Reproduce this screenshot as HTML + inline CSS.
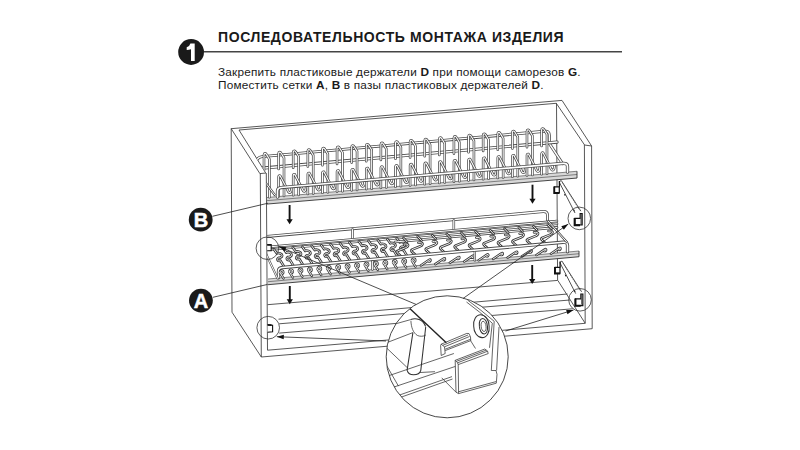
<!DOCTYPE html>
<html><head><meta charset="utf-8">
<style>
html,body{margin:0;padding:0;background:#fff;width:800px;height:450px;overflow:hidden;}
body{position:relative;font-family:"Liberation Sans",sans-serif;color:#1a1a1a;}
.t{position:absolute;white-space:nowrap;}
#title{left:218px;top:29px;font-size:14px;font-weight:bold;letter-spacing:0.6px;}
#l1{left:218px;top:64.6px;font-size:11.8px;letter-spacing:0.19px;}
#l2{left:218px;top:78px;font-size:11.8px;letter-spacing:0.19px;}
b{font-weight:bold;}
svg{position:absolute;left:0;top:0;}
</style></head><body>
<svg width="800" height="450" viewBox="0 0 800 450"><g stroke="#3a3a3a" stroke-width="0.85" fill="none"><path d="M231.00,128.70 L562.00,100.40"/><path d="M239.00,130.00 L556.30,103.30"/><path d="M231.20,128.70 L232.00,312.20"/><path d="M231.20,128.70 L259.90,173.60"/><path d="M239.00,130.00 L265.60,172.80"/><path d="M259.90,173.60 L266.00,173.00"/><path d="M260.30,173.60 L261.30,357.00"/><path d="M266.30,173.00 L267.50,350.20"/><path d="M232.00,312.20 L261.30,357.00"/><path d="M261.30,357.00 L592.20,328.70"/><path d="M267.50,350.20 L585.20,323.30"/><path d="M556.30,103.30 L584.60,145.00"/><path d="M562.00,100.40 L591.60,146.00"/><path d="M584.60,145.00 L591.60,146.00"/><path d="M584.40,145.00 L585.20,323.30"/><path d="M591.60,146.00 L592.20,328.70"/><path d="M556.50,103.30 L557.60,280.00"/><path d="M267.50,304.70 L557.80,280.40"/><path d="M557.80,280.40 L585.20,323.30"/><path d="M278.50,319.20 L567.50,294.00"/><path d="M279.20,323.80 L570.00,300.00"/><path d="M279.20,333.10 L572.50,308.80"/></g><clipPath id="wallclip"><path d="M239,0 L239,130 L265.6,172.8 L266.6,173 L267.6,450 L800,450 L800,0 Z"/></clipPath><g clip-path="url(#wallclip)"><path d="M267.00,197.51 L577.00,171.27 L577.00,178.06 L267.00,204.06 Z" fill="#d8d8d8" stroke="none"/><path d="M267.00,197.51 L577.00,171.27 M267.00,200.64 L577.00,174.52" stroke="#555" stroke-width="0.7" fill="none"/><path d="M267.00,204.06 L577.00,178.06 M577.00,171.27 L577.00,178.06" stroke="#333" stroke-width="0.9" fill="none"/><path d="M255.00,165.83 Q256.00,157.15 262.00,156.62 L545.00,131.25 Q549.30,130.87 549.30,135.21 L549.30,143.50 L562.70,163.78" stroke="#4a4a4a" stroke-width="3.0" fill="none" stroke-linecap="round" stroke-linejoin="round"/><path d="M255.00,165.83 Q256.00,157.15 262.00,156.62 L545.00,131.25 Q549.30,130.87 549.30,135.21 L549.30,143.50 L562.70,163.78" stroke="#fff" stroke-width="1.4" fill="none" stroke-linecap="round" stroke-linejoin="round"/><path d="M262.00,168.14 L557.00,142.11" stroke="#4a4a4a" stroke-width="3.2" fill="none" stroke-linecap="round" stroke-linejoin="round"/><path d="M262.00,168.14 L557.00,142.11" stroke="#fff" stroke-width="1.5" fill="none" stroke-linecap="round" stroke-linejoin="round"/><path d="M264.00,170.31 L264.00,154.87 Q264.00,153.51 265.10,153.41 Q265.90,153.33 266.60,154.64 L269.40,159.18 L269.40,197.31" stroke="#4a4a4a" stroke-width="2.6" fill="none" stroke-linecap="round" stroke-linejoin="round"/><path d="M264.00,170.31 L264.00,154.87 Q264.00,153.51 265.10,153.41 Q265.90,153.33 266.60,154.64 L269.40,159.18 L269.40,197.31" stroke="#fff" stroke-width="1.1" fill="none" stroke-linecap="round" stroke-linejoin="round"/><path d="M278.61,169.03 L278.61,153.56 Q278.61,152.19 279.71,152.09 Q280.51,152.02 281.21,153.33 L284.01,157.88 L284.01,196.07" stroke="#4a4a4a" stroke-width="2.6" fill="none" stroke-linecap="round" stroke-linejoin="round"/><path d="M278.61,169.03 L278.61,153.56 Q278.61,152.19 279.71,152.09 Q280.51,152.02 281.21,153.33 L284.01,157.88 L284.01,196.07" stroke="#fff" stroke-width="1.1" fill="none" stroke-linecap="round" stroke-linejoin="round"/><path d="M293.22,167.74 L293.22,152.25 Q293.22,150.88 294.32,150.78 Q295.12,150.71 295.82,152.02 L298.62,156.57 L298.62,194.84" stroke="#4a4a4a" stroke-width="2.6" fill="none" stroke-linecap="round" stroke-linejoin="round"/><path d="M293.22,167.74 L293.22,152.25 Q293.22,150.88 294.32,150.78 Q295.12,150.71 295.82,152.02 L298.62,156.57 L298.62,194.84" stroke="#fff" stroke-width="1.1" fill="none" stroke-linecap="round" stroke-linejoin="round"/><path d="M307.83,166.46 L307.83,150.94 Q307.83,149.56 308.93,149.46 Q309.73,149.39 310.43,150.70 L313.23,155.27 L313.23,193.60" stroke="#4a4a4a" stroke-width="2.6" fill="none" stroke-linecap="round" stroke-linejoin="round"/><path d="M307.83,166.46 L307.83,150.94 Q307.83,149.56 308.93,149.46 Q309.73,149.39 310.43,150.70 L313.23,155.27 L313.23,193.60" stroke="#fff" stroke-width="1.1" fill="none" stroke-linecap="round" stroke-linejoin="round"/><path d="M322.44,165.17 L322.44,149.62 Q322.44,148.25 323.54,148.15 Q324.34,148.08 325.04,149.39 L327.84,153.96 L327.84,192.36" stroke="#4a4a4a" stroke-width="2.6" fill="none" stroke-linecap="round" stroke-linejoin="round"/><path d="M322.44,165.17 L322.44,149.62 Q322.44,148.25 323.54,148.15 Q324.34,148.08 325.04,149.39 L327.84,153.96 L327.84,192.36" stroke="#fff" stroke-width="1.1" fill="none" stroke-linecap="round" stroke-linejoin="round"/><path d="M337.05,163.89 L337.05,148.31 Q337.05,146.93 338.15,146.83 Q338.95,146.76 339.65,148.08 L342.45,152.66 L342.45,191.13" stroke="#4a4a4a" stroke-width="2.6" fill="none" stroke-linecap="round" stroke-linejoin="round"/><path d="M337.05,163.89 L337.05,148.31 Q337.05,146.93 338.15,146.83 Q338.95,146.76 339.65,148.08 L342.45,152.66 L342.45,191.13" stroke="#fff" stroke-width="1.1" fill="none" stroke-linecap="round" stroke-linejoin="round"/><path d="M351.66,162.60 L351.66,147.00 Q351.66,145.62 352.76,145.52 Q353.56,145.45 354.26,146.77 L357.06,151.36 L357.06,189.89" stroke="#4a4a4a" stroke-width="2.6" fill="none" stroke-linecap="round" stroke-linejoin="round"/><path d="M351.66,162.60 L351.66,147.00 Q351.66,145.62 352.76,145.52 Q353.56,145.45 354.26,146.77 L357.06,151.36 L357.06,189.89" stroke="#fff" stroke-width="1.1" fill="none" stroke-linecap="round" stroke-linejoin="round"/><path d="M366.27,161.32 L366.27,145.69 Q366.27,144.30 367.37,144.20 Q368.17,144.13 368.87,145.45 L371.67,150.05 L371.67,188.65" stroke="#4a4a4a" stroke-width="2.6" fill="none" stroke-linecap="round" stroke-linejoin="round"/><path d="M366.27,161.32 L366.27,145.69 Q366.27,144.30 367.37,144.20 Q368.17,144.13 368.87,145.45 L371.67,150.05 L371.67,188.65" stroke="#fff" stroke-width="1.1" fill="none" stroke-linecap="round" stroke-linejoin="round"/><path d="M380.88,160.03 L380.88,144.38 Q380.88,142.99 381.98,142.89 Q382.78,142.82 383.48,144.14 L386.28,148.75 L386.28,187.42" stroke="#4a4a4a" stroke-width="2.6" fill="none" stroke-linecap="round" stroke-linejoin="round"/><path d="M380.88,160.03 L380.88,144.38 Q380.88,142.99 381.98,142.89 Q382.78,142.82 383.48,144.14 L386.28,148.75 L386.28,187.42" stroke="#fff" stroke-width="1.1" fill="none" stroke-linecap="round" stroke-linejoin="round"/><path d="M395.49,158.75 L395.49,143.06 Q395.49,141.67 396.59,141.58 Q397.39,141.50 398.09,142.83 L400.89,147.45 L400.89,186.18" stroke="#4a4a4a" stroke-width="2.6" fill="none" stroke-linecap="round" stroke-linejoin="round"/><path d="M395.49,158.75 L395.49,143.06 Q395.49,141.67 396.59,141.58 Q397.39,141.50 398.09,142.83 L400.89,147.45 L400.89,186.18" stroke="#fff" stroke-width="1.1" fill="none" stroke-linecap="round" stroke-linejoin="round"/><path d="M410.10,157.46 L410.10,141.75 Q410.10,140.36 411.20,140.26 Q412.00,140.19 412.70,141.52 L415.50,146.14 L415.50,184.94" stroke="#4a4a4a" stroke-width="2.6" fill="none" stroke-linecap="round" stroke-linejoin="round"/><path d="M410.10,157.46 L410.10,141.75 Q410.10,140.36 411.20,140.26 Q412.00,140.19 412.70,141.52 L415.50,146.14 L415.50,184.94" stroke="#fff" stroke-width="1.1" fill="none" stroke-linecap="round" stroke-linejoin="round"/><path d="M424.71,156.18 L424.71,140.44 Q424.71,139.05 425.81,138.95 Q426.61,138.87 427.31,140.21 L430.11,144.84 L430.11,183.71" stroke="#4a4a4a" stroke-width="2.6" fill="none" stroke-linecap="round" stroke-linejoin="round"/><path d="M424.71,156.18 L424.71,140.44 Q424.71,139.05 425.81,138.95 Q426.61,138.87 427.31,140.21 L430.11,144.84 L430.11,183.71" stroke="#fff" stroke-width="1.1" fill="none" stroke-linecap="round" stroke-linejoin="round"/><path d="M439.32,154.89 L439.32,139.13 Q439.32,137.73 440.42,137.63 Q441.22,137.56 441.92,138.89 L444.72,143.53 L444.72,182.47" stroke="#4a4a4a" stroke-width="2.6" fill="none" stroke-linecap="round" stroke-linejoin="round"/><path d="M439.32,154.89 L439.32,139.13 Q439.32,137.73 440.42,137.63 Q441.22,137.56 441.92,138.89 L444.72,143.53 L444.72,182.47" stroke="#fff" stroke-width="1.1" fill="none" stroke-linecap="round" stroke-linejoin="round"/><path d="M453.93,153.61 L453.93,137.82 Q453.93,136.42 455.03,136.32 Q455.83,136.25 456.53,137.58 L459.33,142.23 L459.33,181.23" stroke="#4a4a4a" stroke-width="2.6" fill="none" stroke-linecap="round" stroke-linejoin="round"/><path d="M453.93,153.61 L453.93,137.82 Q453.93,136.42 455.03,136.32 Q455.83,136.25 456.53,137.58 L459.33,142.23 L459.33,181.23" stroke="#fff" stroke-width="1.1" fill="none" stroke-linecap="round" stroke-linejoin="round"/><path d="M468.54,152.32 L468.54,136.50 Q468.54,135.10 469.64,135.00 Q470.44,134.93 471.14,136.27 L473.94,140.93 L473.94,180.00" stroke="#4a4a4a" stroke-width="2.6" fill="none" stroke-linecap="round" stroke-linejoin="round"/><path d="M468.54,152.32 L468.54,136.50 Q468.54,135.10 469.64,135.00 Q470.44,134.93 471.14,136.27 L473.94,140.93 L473.94,180.00" stroke="#fff" stroke-width="1.1" fill="none" stroke-linecap="round" stroke-linejoin="round"/><path d="M483.15,151.04 L483.15,135.19 Q483.15,133.79 484.25,133.69 Q485.05,133.62 485.75,134.96 L488.55,139.62 L488.55,178.76" stroke="#4a4a4a" stroke-width="2.6" fill="none" stroke-linecap="round" stroke-linejoin="round"/><path d="M483.15,151.04 L483.15,135.19 Q483.15,133.79 484.25,133.69 Q485.05,133.62 485.75,134.96 L488.55,139.62 L488.55,178.76" stroke="#fff" stroke-width="1.1" fill="none" stroke-linecap="round" stroke-linejoin="round"/><path d="M497.76,149.75 L497.76,133.88 Q497.76,132.47 498.86,132.37 Q499.66,132.30 500.36,133.65 L503.16,138.32 L503.16,177.52" stroke="#4a4a4a" stroke-width="2.6" fill="none" stroke-linecap="round" stroke-linejoin="round"/><path d="M497.76,149.75 L497.76,133.88 Q497.76,132.47 498.86,132.37 Q499.66,132.30 500.36,133.65 L503.16,138.32 L503.16,177.52" stroke="#fff" stroke-width="1.1" fill="none" stroke-linecap="round" stroke-linejoin="round"/><path d="M512.37,148.47 L512.37,132.57 Q512.37,131.16 513.47,131.06 Q514.27,130.99 514.97,132.33 L517.77,137.02 L517.77,176.29" stroke="#4a4a4a" stroke-width="2.6" fill="none" stroke-linecap="round" stroke-linejoin="round"/><path d="M512.37,148.47 L512.37,132.57 Q512.37,131.16 513.47,131.06 Q514.27,130.99 514.97,132.33 L517.77,137.02 L517.77,176.29" stroke="#fff" stroke-width="1.1" fill="none" stroke-linecap="round" stroke-linejoin="round"/><path d="M526.98,147.18 L526.98,131.25 Q526.98,129.84 528.08,129.74 Q528.88,129.67 529.58,131.02 L532.38,135.71 L532.38,175.05" stroke="#4a4a4a" stroke-width="2.6" fill="none" stroke-linecap="round" stroke-linejoin="round"/><path d="M526.98,147.18 L526.98,131.25 Q526.98,129.84 528.08,129.74 Q528.88,129.67 529.58,131.02 L532.38,135.71 L532.38,175.05" stroke="#fff" stroke-width="1.1" fill="none" stroke-linecap="round" stroke-linejoin="round"/><path d="M541.59,145.90 L541.59,129.94 Q541.59,128.53 542.69,128.43 Q543.49,128.36 544.19,129.71 L546.99,134.41 L546.99,173.81" stroke="#4a4a4a" stroke-width="2.6" fill="none" stroke-linecap="round" stroke-linejoin="round"/><path d="M541.59,145.90 L541.59,129.94 Q541.59,128.53 542.69,128.43 Q543.49,128.36 544.19,129.71 L546.99,134.41 L546.99,173.81" stroke="#fff" stroke-width="1.1" fill="none" stroke-linecap="round" stroke-linejoin="round"/><path d="M278.61,196.53 L278.61,176.96 Q278.61,175.29 280.11,175.65 L286.11,187.08 L288.11,191.32 Q289.61,194.13 291.11,191.06 L291.61,188.08" stroke="#4a4a4a" stroke-width="2.6" fill="none" stroke-linecap="round" stroke-linejoin="round"/><path d="M278.61,196.53 L278.61,176.96 Q278.61,175.29 280.11,175.65 L286.11,187.08 L288.11,191.32 Q289.61,194.13 291.11,191.06 L291.61,188.08" stroke="#fff" stroke-width="1.1" fill="none" stroke-linecap="round" stroke-linejoin="round"/><path d="M293.22,195.30 L293.22,175.68 Q293.22,174.02 294.72,174.38 L300.72,185.83 L302.72,190.07 Q304.22,192.89 305.72,189.82 L306.22,186.83" stroke="#4a4a4a" stroke-width="2.6" fill="none" stroke-linecap="round" stroke-linejoin="round"/><path d="M293.22,195.30 L293.22,175.68 Q293.22,174.02 294.72,174.38 L300.72,185.83 L302.72,190.07 Q304.22,192.89 305.72,189.82 L306.22,186.83" stroke="#fff" stroke-width="1.1" fill="none" stroke-linecap="round" stroke-linejoin="round"/><path d="M307.83,194.06 L307.83,174.41 Q307.83,172.74 309.33,173.10 L315.33,184.58 L317.33,188.83 Q318.83,191.65 320.33,188.57 L320.83,185.58" stroke="#4a4a4a" stroke-width="2.6" fill="none" stroke-linecap="round" stroke-linejoin="round"/><path d="M307.83,194.06 L307.83,174.41 Q307.83,172.74 309.33,173.10 L315.33,184.58 L317.33,188.83 Q318.83,191.65 320.33,188.57 L320.83,185.58" stroke="#fff" stroke-width="1.1" fill="none" stroke-linecap="round" stroke-linejoin="round"/><path d="M322.44,192.82 L322.44,173.14 Q322.44,171.47 323.94,171.83 L329.94,183.32 L331.94,187.58 Q333.44,190.41 334.94,187.33 L335.44,184.33" stroke="#4a4a4a" stroke-width="2.6" fill="none" stroke-linecap="round" stroke-linejoin="round"/><path d="M322.44,192.82 L322.44,173.14 Q322.44,171.47 323.94,171.83 L329.94,183.32 L331.94,187.58 Q333.44,190.41 334.94,187.33 L335.44,184.33" stroke="#fff" stroke-width="1.1" fill="none" stroke-linecap="round" stroke-linejoin="round"/><path d="M337.05,191.58 L337.05,171.87 Q337.05,170.20 338.55,170.56 L344.55,182.07 L346.55,186.34 Q348.05,189.17 349.55,186.08 L350.05,183.08" stroke="#4a4a4a" stroke-width="2.6" fill="none" stroke-linecap="round" stroke-linejoin="round"/><path d="M337.05,191.58 L337.05,171.87 Q337.05,170.20 338.55,170.56 L344.55,182.07 L346.55,186.34 Q348.05,189.17 349.55,186.08 L350.05,183.08" stroke="#fff" stroke-width="1.1" fill="none" stroke-linecap="round" stroke-linejoin="round"/><path d="M351.66,190.35 L351.66,170.60 Q351.66,168.92 353.16,169.28 L359.16,180.82 L361.16,185.10 Q362.66,187.93 364.16,184.84 L364.66,181.83" stroke="#4a4a4a" stroke-width="2.6" fill="none" stroke-linecap="round" stroke-linejoin="round"/><path d="M351.66,190.35 L351.66,170.60 Q351.66,168.92 353.16,169.28 L359.16,180.82 L361.16,185.10 Q362.66,187.93 364.16,184.84 L364.66,181.83" stroke="#fff" stroke-width="1.1" fill="none" stroke-linecap="round" stroke-linejoin="round"/><path d="M366.27,189.11 L366.27,169.33 Q366.27,167.65 367.77,168.01 L373.77,179.57 L375.77,183.85 Q377.27,186.69 378.77,183.60 L379.27,180.58" stroke="#4a4a4a" stroke-width="2.6" fill="none" stroke-linecap="round" stroke-linejoin="round"/><path d="M366.27,189.11 L366.27,169.33 Q366.27,167.65 367.77,168.01 L373.77,179.57 L375.77,183.85 Q377.27,186.69 378.77,183.60 L379.27,180.58" stroke="#fff" stroke-width="1.1" fill="none" stroke-linecap="round" stroke-linejoin="round"/><path d="M380.88,187.87 L380.88,168.06 Q380.88,166.37 382.38,166.74 L388.38,178.31 L390.38,182.61 Q391.88,185.45 393.38,182.35 L393.88,179.33" stroke="#4a4a4a" stroke-width="2.6" fill="none" stroke-linecap="round" stroke-linejoin="round"/><path d="M380.88,187.87 L380.88,168.06 Q380.88,166.37 382.38,166.74 L388.38,178.31 L390.38,182.61 Q391.88,185.45 393.38,182.35 L393.88,179.33" stroke="#fff" stroke-width="1.1" fill="none" stroke-linecap="round" stroke-linejoin="round"/><path d="M395.49,186.64 L395.49,166.79 Q395.49,165.10 396.99,165.46 L402.99,177.06 L404.99,181.36 Q406.49,184.22 407.99,181.11 L408.49,178.08" stroke="#4a4a4a" stroke-width="2.6" fill="none" stroke-linecap="round" stroke-linejoin="round"/><path d="M395.49,186.64 L395.49,166.79 Q395.49,165.10 396.99,165.46 L402.99,177.06 L404.99,181.36 Q406.49,184.22 407.99,181.11 L408.49,178.08" stroke="#fff" stroke-width="1.1" fill="none" stroke-linecap="round" stroke-linejoin="round"/><path d="M410.10,185.40 L410.10,165.52 Q410.10,163.82 411.60,164.19 L417.60,175.81 L419.60,180.12 Q421.10,182.98 422.60,179.86 L423.10,176.83" stroke="#4a4a4a" stroke-width="2.6" fill="none" stroke-linecap="round" stroke-linejoin="round"/><path d="M410.10,185.40 L410.10,165.52 Q410.10,163.82 411.60,164.19 L417.60,175.81 L419.60,180.12 Q421.10,182.98 422.60,179.86 L423.10,176.83" stroke="#fff" stroke-width="1.1" fill="none" stroke-linecap="round" stroke-linejoin="round"/><path d="M424.71,184.16 L424.71,164.24 Q424.71,162.55 426.21,162.92 L432.21,174.56 L434.21,178.87 Q435.71,181.74 437.21,178.62 L437.71,175.58" stroke="#4a4a4a" stroke-width="2.6" fill="none" stroke-linecap="round" stroke-linejoin="round"/><path d="M424.71,184.16 L424.71,164.24 Q424.71,162.55 426.21,162.92 L432.21,174.56 L434.21,178.87 Q435.71,181.74 437.21,178.62 L437.71,175.58" stroke="#fff" stroke-width="1.1" fill="none" stroke-linecap="round" stroke-linejoin="round"/><path d="M439.32,182.93 L439.32,162.97 Q439.32,161.28 440.82,161.64 L446.82,173.30 L448.82,177.63 Q450.32,180.50 451.82,177.37 L452.32,174.33" stroke="#4a4a4a" stroke-width="2.6" fill="none" stroke-linecap="round" stroke-linejoin="round"/><path d="M439.32,182.93 L439.32,162.97 Q439.32,161.28 440.82,161.64 L446.82,173.30 L448.82,177.63 Q450.32,180.50 451.82,177.37 L452.32,174.33" stroke="#fff" stroke-width="1.1" fill="none" stroke-linecap="round" stroke-linejoin="round"/><path d="M453.93,181.69 L453.93,161.70 Q453.93,160.00 455.43,160.37 L461.43,172.05 L463.43,176.38 Q464.93,179.26 466.43,176.13 L466.93,173.08" stroke="#4a4a4a" stroke-width="2.6" fill="none" stroke-linecap="round" stroke-linejoin="round"/><path d="M453.93,181.69 L453.93,161.70 Q453.93,160.00 455.43,160.37 L461.43,172.05 L463.43,176.38 Q464.93,179.26 466.43,176.13 L466.93,173.08" stroke="#fff" stroke-width="1.1" fill="none" stroke-linecap="round" stroke-linejoin="round"/><path d="M468.54,180.45 L468.54,160.43 Q468.54,158.73 470.04,159.10 L476.04,170.80 L478.04,175.14 Q479.54,178.02 481.04,174.88 L481.54,171.83" stroke="#4a4a4a" stroke-width="2.6" fill="none" stroke-linecap="round" stroke-linejoin="round"/><path d="M468.54,180.45 L468.54,160.43 Q468.54,158.73 470.04,159.10 L476.04,170.80 L478.04,175.14 Q479.54,178.02 481.04,174.88 L481.54,171.83" stroke="#fff" stroke-width="1.1" fill="none" stroke-linecap="round" stroke-linejoin="round"/><path d="M483.15,179.22 L483.15,159.16 Q483.15,157.45 484.65,157.83 L490.65,169.55 L492.65,173.89 Q494.15,176.78 495.65,173.64 L496.15,170.58" stroke="#4a4a4a" stroke-width="2.6" fill="none" stroke-linecap="round" stroke-linejoin="round"/><path d="M483.15,179.22 L483.15,159.16 Q483.15,157.45 484.65,157.83 L490.65,169.55 L492.65,173.89 Q494.15,176.78 495.65,173.64 L496.15,170.58" stroke="#fff" stroke-width="1.1" fill="none" stroke-linecap="round" stroke-linejoin="round"/><path d="M497.76,177.98 L497.76,157.89 Q497.76,156.18 499.26,156.55 L505.26,168.30 L507.26,172.65 Q508.76,175.54 510.26,172.39 L510.76,169.33" stroke="#4a4a4a" stroke-width="2.6" fill="none" stroke-linecap="round" stroke-linejoin="round"/><path d="M497.76,177.98 L497.76,157.89 Q497.76,156.18 499.26,156.55 L505.26,168.30 L507.26,172.65 Q508.76,175.54 510.26,172.39 L510.76,169.33" stroke="#fff" stroke-width="1.1" fill="none" stroke-linecap="round" stroke-linejoin="round"/><path d="M512.37,176.74 L512.37,156.62 Q512.37,154.91 513.87,155.28 L519.87,167.04 L521.87,171.41 Q523.37,174.30 524.87,171.15 L525.37,168.08" stroke="#4a4a4a" stroke-width="2.6" fill="none" stroke-linecap="round" stroke-linejoin="round"/><path d="M512.37,176.74 L512.37,156.62 Q512.37,154.91 513.87,155.28 L519.87,167.04 L521.87,171.41 Q523.37,174.30 524.87,171.15 L525.37,168.08" stroke="#fff" stroke-width="1.1" fill="none" stroke-linecap="round" stroke-linejoin="round"/><path d="M526.98,175.51 L526.98,155.35 Q526.98,153.63 528.48,154.01 L534.48,165.79 L536.48,170.16 Q537.98,173.06 539.48,169.91 L539.98,166.83" stroke="#4a4a4a" stroke-width="2.6" fill="none" stroke-linecap="round" stroke-linejoin="round"/><path d="M526.98,175.51 L526.98,155.35 Q526.98,153.63 528.48,154.01 L534.48,165.79 L536.48,170.16 Q537.98,173.06 539.48,169.91 L539.98,166.83" stroke="#fff" stroke-width="1.1" fill="none" stroke-linecap="round" stroke-linejoin="round"/><path d="M541.59,174.27 L541.59,154.07 Q541.59,152.36 543.09,152.73 L549.09,164.54 L551.09,168.92 Q552.59,171.82 554.09,168.66 L554.59,165.58" stroke="#4a4a4a" stroke-width="2.6" fill="none" stroke-linecap="round" stroke-linejoin="round"/><path d="M541.59,174.27 L541.59,154.07 Q541.59,152.36 543.09,152.73 L549.09,164.54 L551.09,168.92 Q552.59,171.82 554.09,168.66 L554.59,165.58" stroke="#fff" stroke-width="1.1" fill="none" stroke-linecap="round" stroke-linejoin="round"/><path d="M277.50,197.12 L277.50,190.75 Q277.50,187.82 281.00,187.52 L563.00,163.35 Q567.50,162.96 567.50,166.51 L567.50,172.08" stroke="#4a4a4a" stroke-width="3.3" fill="none" stroke-linecap="round" stroke-linejoin="round"/><path d="M277.50,197.12 L277.50,190.75 Q277.50,187.82 281.00,187.52 L563.00,163.35 Q567.50,162.96 567.50,166.51 L567.50,172.08" stroke="#fff" stroke-width="1.7" fill="none" stroke-linecap="round" stroke-linejoin="round"/><path d="M255.70,169.38 L274.60,194.72" stroke="#4a4a4a" stroke-width="2.2" fill="none" stroke-linecap="round" stroke-linejoin="round"/><path d="M255.70,169.38 L274.60,194.72" stroke="#fff" stroke-width="1.0" fill="none" stroke-linecap="round" stroke-linejoin="round"/></g><g clip-path="url(#wallclip)"><path d="M268.00,279.01 L579.00,251.02 L579.00,256.72 L268.00,284.71 Z" fill="#d8d8d8" stroke="none"/><path d="M268.00,279.01 L579.00,251.02 M268.00,281.71 L579.00,253.72" stroke="#555" stroke-width="0.7" fill="none"/><path d="M268.00,284.71 L579.00,256.72 M579.00,251.02 L579.00,256.72" stroke="#333" stroke-width="0.9" fill="none"/><path d="M267.00,236.40 L543.00,211.56 Q547.50,211.16 547.50,215.06 L547.50,221.56" stroke="#4a4a4a" stroke-width="3.0" fill="none" stroke-linecap="round" stroke-linejoin="round"/><path d="M267.00,236.40 L543.00,211.56 Q547.50,211.16 547.50,215.06 L547.50,221.56" stroke="#fff" stroke-width="1.4" fill="none" stroke-linecap="round" stroke-linejoin="round"/><path d="M352.50,229.61 L352.50,238.61" stroke="#4a4a4a" stroke-width="2.6" fill="none" stroke-linecap="round" stroke-linejoin="round"/><path d="M352.50,229.61 L352.50,238.61" stroke="#fff" stroke-width="1.2" fill="none" stroke-linecap="round" stroke-linejoin="round"/><path d="M453.80,220.49 L453.80,229.49" stroke="#4a4a4a" stroke-width="2.6" fill="none" stroke-linecap="round" stroke-linejoin="round"/><path d="M453.80,220.49 L453.80,229.49" stroke="#fff" stroke-width="1.2" fill="none" stroke-linecap="round" stroke-linejoin="round"/><path d="M268.00,247.01 L557.00,221.00" stroke="#4a4a4a" stroke-width="2.6" fill="none" stroke-linecap="round" stroke-linejoin="round"/><path d="M268.00,247.01 L557.00,221.00" stroke="#fff" stroke-width="1.0" fill="none" stroke-linecap="round" stroke-linejoin="round"/><path d="M268.00,249.81 L557.00,223.80" stroke="#4a4a4a" stroke-width="2.6" fill="none" stroke-linecap="round" stroke-linejoin="round"/><path d="M268.00,249.81 L557.00,223.80" stroke="#fff" stroke-width="1.0" fill="none" stroke-linecap="round" stroke-linejoin="round"/><path d="M273.90,249.28 L276.90,253.51 C278.40,252.47 282.40,253.61 282.10,255.84 C281.90,257.56 279.40,257.98 278.50,257.87 C276.70,258.83 277.10,260.99 279.30,260.99 L280.30,260.50 L283.80,266.19" stroke="#3a3a3a" stroke-width="2.6" fill="none" stroke-linecap="round" stroke-linejoin="round"/><path d="M273.90,249.28 L276.90,253.51 C278.40,252.47 282.40,253.61 282.10,255.84 C281.90,257.56 279.40,257.98 278.50,257.87 C276.70,258.83 277.10,260.99 279.30,260.99 L280.30,260.50 L283.80,266.19" stroke="#fff" stroke-width="0.9" fill="none" stroke-linecap="round" stroke-linejoin="round"/><path d="M283.35,248.43 L286.35,252.66 C287.85,251.62 291.85,252.76 291.55,254.99 C291.35,256.71 288.85,257.13 287.95,257.01 C286.15,257.98 286.55,260.14 288.75,260.14 L289.75,259.65 L293.25,265.34" stroke="#3a3a3a" stroke-width="2.6" fill="none" stroke-linecap="round" stroke-linejoin="round"/><path d="M283.35,248.43 L286.35,252.66 C287.85,251.62 291.85,252.76 291.55,254.99 C291.35,256.71 288.85,257.13 287.95,257.01 C286.15,257.98 286.55,260.14 288.75,260.14 L289.75,259.65 L293.25,265.34" stroke="#fff" stroke-width="0.9" fill="none" stroke-linecap="round" stroke-linejoin="round"/><path d="M292.80,247.58 L295.80,251.81 C297.30,250.77 301.30,251.91 301.00,254.14 C300.80,255.86 298.30,256.28 297.40,256.16 C295.60,257.13 296.00,259.29 298.20,259.29 L299.20,258.80 L302.70,264.49" stroke="#3a3a3a" stroke-width="2.6" fill="none" stroke-linecap="round" stroke-linejoin="round"/><path d="M292.80,247.58 L295.80,251.81 C297.30,250.77 301.30,251.91 301.00,254.14 C300.80,255.86 298.30,256.28 297.40,256.16 C295.60,257.13 296.00,259.29 298.20,259.29 L299.20,258.80 L302.70,264.49" stroke="#fff" stroke-width="0.9" fill="none" stroke-linecap="round" stroke-linejoin="round"/><path d="M302.25,246.73 L305.25,250.96 C306.75,249.92 310.75,251.06 310.45,253.29 C310.25,255.01 307.75,255.43 306.85,255.31 C305.05,256.28 305.45,258.44 307.65,258.44 L308.65,257.95 L312.15,263.64" stroke="#3a3a3a" stroke-width="2.6" fill="none" stroke-linecap="round" stroke-linejoin="round"/><path d="M302.25,246.73 L305.25,250.96 C306.75,249.92 310.75,251.06 310.45,253.29 C310.25,255.01 307.75,255.43 306.85,255.31 C305.05,256.28 305.45,258.44 307.65,258.44 L308.65,257.95 L312.15,263.64" stroke="#fff" stroke-width="0.9" fill="none" stroke-linecap="round" stroke-linejoin="round"/><path d="M311.70,245.88 L314.70,250.11 C316.20,249.07 320.20,250.21 319.90,252.44 C319.70,254.16 317.20,254.58 316.30,254.46 C314.50,255.43 314.90,257.59 317.10,257.59 L318.10,257.10 L321.60,262.79" stroke="#3a3a3a" stroke-width="2.6" fill="none" stroke-linecap="round" stroke-linejoin="round"/><path d="M311.70,245.88 L314.70,250.11 C316.20,249.07 320.20,250.21 319.90,252.44 C319.70,254.16 317.20,254.58 316.30,254.46 C314.50,255.43 314.90,257.59 317.10,257.59 L318.10,257.10 L321.60,262.79" stroke="#fff" stroke-width="0.9" fill="none" stroke-linecap="round" stroke-linejoin="round"/><path d="M321.15,245.03 L324.15,249.26 C325.65,248.22 329.65,249.36 329.35,251.59 C329.15,253.31 326.65,253.73 325.75,253.61 C323.95,254.57 324.35,256.74 326.55,256.74 L327.55,256.25 L331.05,261.94" stroke="#3a3a3a" stroke-width="2.6" fill="none" stroke-linecap="round" stroke-linejoin="round"/><path d="M321.15,245.03 L324.15,249.26 C325.65,248.22 329.65,249.36 329.35,251.59 C329.15,253.31 326.65,253.73 325.75,253.61 C323.95,254.57 324.35,256.74 326.55,256.74 L327.55,256.25 L331.05,261.94" stroke="#fff" stroke-width="0.9" fill="none" stroke-linecap="round" stroke-linejoin="round"/><path d="M330.60,244.18 L333.60,248.41 C335.10,247.37 339.10,248.51 338.80,250.74 C338.60,252.46 336.10,252.88 335.20,252.76 C333.40,253.72 333.80,255.89 336.00,255.89 L337.00,255.40 L340.50,261.08" stroke="#3a3a3a" stroke-width="2.6" fill="none" stroke-linecap="round" stroke-linejoin="round"/><path d="M330.60,244.18 L333.60,248.41 C335.10,247.37 339.10,248.51 338.80,250.74 C338.60,252.46 336.10,252.88 335.20,252.76 C333.40,253.72 333.80,255.89 336.00,255.89 L337.00,255.40 L340.50,261.08" stroke="#fff" stroke-width="0.9" fill="none" stroke-linecap="round" stroke-linejoin="round"/><path d="M340.05,243.33 L343.05,247.56 C344.55,246.52 348.55,247.66 348.25,249.89 C348.05,251.61 345.55,252.03 344.65,251.91 C342.85,252.87 343.25,255.04 345.45,255.04 L346.45,254.55 L349.95,260.23" stroke="#3a3a3a" stroke-width="2.6" fill="none" stroke-linecap="round" stroke-linejoin="round"/><path d="M340.05,243.33 L343.05,247.56 C344.55,246.52 348.55,247.66 348.25,249.89 C348.05,251.61 345.55,252.03 344.65,251.91 C342.85,252.87 343.25,255.04 345.45,255.04 L346.45,254.55 L349.95,260.23" stroke="#fff" stroke-width="0.9" fill="none" stroke-linecap="round" stroke-linejoin="round"/><path d="M349.50,242.47 L352.50,246.71 C354.00,245.67 358.00,246.81 357.70,249.04 C357.50,250.75 355.00,251.18 354.10,251.06 C352.30,252.02 352.70,254.19 354.90,254.19 L355.90,253.70 L359.40,259.38" stroke="#3a3a3a" stroke-width="2.6" fill="none" stroke-linecap="round" stroke-linejoin="round"/><path d="M349.50,242.47 L352.50,246.71 C354.00,245.67 358.00,246.81 357.70,249.04 C357.50,250.75 355.00,251.18 354.10,251.06 C352.30,252.02 352.70,254.19 354.90,254.19 L355.90,253.70 L359.40,259.38" stroke="#fff" stroke-width="0.9" fill="none" stroke-linecap="round" stroke-linejoin="round"/><path d="M358.95,241.62 L361.95,245.85 C363.45,244.82 367.45,245.96 367.15,248.19 C366.95,249.90 364.45,250.33 363.55,250.21 C361.75,251.17 362.15,253.34 364.35,253.34 L365.35,252.85 L368.85,258.53" stroke="#3a3a3a" stroke-width="2.6" fill="none" stroke-linecap="round" stroke-linejoin="round"/><path d="M358.95,241.62 L361.95,245.85 C363.45,244.82 367.45,245.96 367.15,248.19 C366.95,249.90 364.45,250.33 363.55,250.21 C361.75,251.17 362.15,253.34 364.35,253.34 L365.35,252.85 L368.85,258.53" stroke="#fff" stroke-width="0.9" fill="none" stroke-linecap="round" stroke-linejoin="round"/><path d="M368.40,240.77 L371.40,245.00 C372.90,243.97 376.90,245.11 376.60,247.34 C376.40,249.05 373.90,249.48 373.00,249.36 C371.20,250.32 371.60,252.49 373.80,252.49 L374.80,252.00 L378.30,257.68" stroke="#3a3a3a" stroke-width="2.6" fill="none" stroke-linecap="round" stroke-linejoin="round"/><path d="M368.40,240.77 L371.40,245.00 C372.90,243.97 376.90,245.11 376.60,247.34 C376.40,249.05 373.90,249.48 373.00,249.36 C371.20,250.32 371.60,252.49 373.80,252.49 L374.80,252.00 L378.30,257.68" stroke="#fff" stroke-width="0.9" fill="none" stroke-linecap="round" stroke-linejoin="round"/><path d="M377.85,239.92 L380.85,244.15 C382.35,243.12 386.35,244.26 386.05,246.49 C385.85,248.20 383.35,248.63 382.45,248.51 C380.65,249.47 381.05,251.64 383.25,251.64 L384.25,251.15 L387.75,256.83" stroke="#3a3a3a" stroke-width="2.6" fill="none" stroke-linecap="round" stroke-linejoin="round"/><path d="M377.85,239.92 L380.85,244.15 C382.35,243.12 386.35,244.26 386.05,246.49 C385.85,248.20 383.35,248.63 382.45,248.51 C380.65,249.47 381.05,251.64 383.25,251.64 L384.25,251.15 L387.75,256.83" stroke="#fff" stroke-width="0.9" fill="none" stroke-linecap="round" stroke-linejoin="round"/><path d="M387.30,239.07 L390.30,243.30 C391.80,242.27 395.80,243.41 395.50,245.64 C395.30,247.35 392.80,247.78 391.90,247.66 C390.10,248.62 390.50,250.78 392.70,250.79 L393.70,250.30 L397.20,255.98" stroke="#3a3a3a" stroke-width="2.6" fill="none" stroke-linecap="round" stroke-linejoin="round"/><path d="M387.30,239.07 L390.30,243.30 C391.80,242.27 395.80,243.41 395.50,245.64 C395.30,247.35 392.80,247.78 391.90,247.66 C390.10,248.62 390.50,250.78 392.70,250.79 L393.70,250.30 L397.20,255.98" stroke="#fff" stroke-width="0.9" fill="none" stroke-linecap="round" stroke-linejoin="round"/><path d="M396.75,238.22 L399.75,242.45 C401.25,241.42 405.25,242.56 404.95,244.78 C404.75,246.50 402.25,246.93 401.35,246.81 C399.55,247.77 399.95,249.93 402.15,249.94 L403.15,249.45 L406.65,255.13" stroke="#3a3a3a" stroke-width="2.6" fill="none" stroke-linecap="round" stroke-linejoin="round"/><path d="M396.75,238.22 L399.75,242.45 C401.25,241.42 405.25,242.56 404.95,244.78 C404.75,246.50 402.25,246.93 401.35,246.81 C399.55,247.77 399.95,249.93 402.15,249.94 L403.15,249.45 L406.65,255.13" stroke="#fff" stroke-width="0.9" fill="none" stroke-linecap="round" stroke-linejoin="round"/><path d="M395.00,241.98 L557.00,227.40" stroke="#4a4a4a" stroke-width="2.6" fill="none" stroke-linecap="round" stroke-linejoin="round"/><path d="M395.00,241.98 L557.00,227.40" stroke="#fff" stroke-width="1.0" fill="none" stroke-linecap="round" stroke-linejoin="round"/><path d="M403.30,237.83 L407.00,241.80" stroke="#3a3a3a" stroke-width="2.6" fill="none" stroke-linecap="round" stroke-linejoin="round"/><path d="M403.30,237.83 L407.00,241.80" stroke="#fff" stroke-width="0.9" fill="none" stroke-linecap="round" stroke-linejoin="round"/><path d="M404.00,244.07 Q408.50,243.56 408.00,245.61 Q407.60,247.05 405.80,247.61 L397.50,250.96 Q396.30,251.66 397.20,252.78 L400.60,255.88" stroke="#3a3a3a" stroke-width="2.6" fill="none" stroke-linecap="round" stroke-linejoin="round"/><path d="M404.00,244.07 Q408.50,243.56 408.00,245.61 Q407.60,247.05 405.80,247.61 L397.50,250.96 Q396.30,251.66 397.20,252.78 L400.60,255.88" stroke="#fff" stroke-width="0.9" fill="none" stroke-linecap="round" stroke-linejoin="round"/><path d="M417.75,236.53 L421.45,240.50" stroke="#3a3a3a" stroke-width="2.6" fill="none" stroke-linecap="round" stroke-linejoin="round"/><path d="M417.75,236.53 L421.45,240.50" stroke="#fff" stroke-width="0.9" fill="none" stroke-linecap="round" stroke-linejoin="round"/><path d="M418.45,242.77 Q422.95,242.26 422.45,244.31 Q422.05,245.75 420.25,246.31 L411.95,249.65 Q410.75,250.36 411.65,251.48 L415.05,254.58" stroke="#3a3a3a" stroke-width="2.6" fill="none" stroke-linecap="round" stroke-linejoin="round"/><path d="M418.45,242.77 Q422.95,242.26 422.45,244.31 Q422.05,245.75 420.25,246.31 L411.95,249.65 Q410.75,250.36 411.65,251.48 L415.05,254.58" stroke="#fff" stroke-width="0.9" fill="none" stroke-linecap="round" stroke-linejoin="round"/><path d="M432.20,235.23 L435.90,239.20" stroke="#3a3a3a" stroke-width="2.6" fill="none" stroke-linecap="round" stroke-linejoin="round"/><path d="M432.20,235.23 L435.90,239.20" stroke="#fff" stroke-width="0.9" fill="none" stroke-linecap="round" stroke-linejoin="round"/><path d="M432.90,241.47 Q437.40,240.96 436.90,243.01 Q436.50,244.45 434.70,245.01 L426.40,248.35 Q425.20,249.06 426.10,250.18 L429.50,253.28" stroke="#3a3a3a" stroke-width="2.6" fill="none" stroke-linecap="round" stroke-linejoin="round"/><path d="M432.90,241.47 Q437.40,240.96 436.90,243.01 Q436.50,244.45 434.70,245.01 L426.40,248.35 Q425.20,249.06 426.10,250.18 L429.50,253.28" stroke="#fff" stroke-width="0.9" fill="none" stroke-linecap="round" stroke-linejoin="round"/><path d="M446.65,233.93 L450.35,237.90" stroke="#3a3a3a" stroke-width="2.6" fill="none" stroke-linecap="round" stroke-linejoin="round"/><path d="M446.65,233.93 L450.35,237.90" stroke="#fff" stroke-width="0.9" fill="none" stroke-linecap="round" stroke-linejoin="round"/><path d="M447.35,240.17 Q451.85,239.66 451.35,241.71 Q450.95,243.14 449.15,243.71 L440.85,247.05 Q439.65,247.76 440.55,248.88 L443.95,251.97" stroke="#3a3a3a" stroke-width="2.6" fill="none" stroke-linecap="round" stroke-linejoin="round"/><path d="M447.35,240.17 Q451.85,239.66 451.35,241.71 Q450.95,243.14 449.15,243.71 L440.85,247.05 Q439.65,247.76 440.55,248.88 L443.95,251.97" stroke="#fff" stroke-width="0.9" fill="none" stroke-linecap="round" stroke-linejoin="round"/><path d="M461.10,232.63 L464.80,236.60" stroke="#3a3a3a" stroke-width="2.6" fill="none" stroke-linecap="round" stroke-linejoin="round"/><path d="M461.10,232.63 L464.80,236.60" stroke="#fff" stroke-width="0.9" fill="none" stroke-linecap="round" stroke-linejoin="round"/><path d="M461.80,238.87 Q466.30,238.36 465.80,240.41 Q465.40,241.84 463.60,242.41 L455.30,245.75 Q454.10,246.46 455.00,247.58 L458.40,250.67" stroke="#3a3a3a" stroke-width="2.6" fill="none" stroke-linecap="round" stroke-linejoin="round"/><path d="M461.80,238.87 Q466.30,238.36 465.80,240.41 Q465.40,241.84 463.60,242.41 L455.30,245.75 Q454.10,246.46 455.00,247.58 L458.40,250.67" stroke="#fff" stroke-width="0.9" fill="none" stroke-linecap="round" stroke-linejoin="round"/><path d="M475.55,231.33 L479.25,235.30" stroke="#3a3a3a" stroke-width="2.6" fill="none" stroke-linecap="round" stroke-linejoin="round"/><path d="M475.55,231.33 L479.25,235.30" stroke="#fff" stroke-width="0.9" fill="none" stroke-linecap="round" stroke-linejoin="round"/><path d="M476.25,237.57 Q480.75,237.06 480.25,239.11 Q479.85,240.54 478.05,241.11 L469.75,244.45 Q468.55,245.16 469.45,246.28 L472.85,249.37" stroke="#3a3a3a" stroke-width="2.6" fill="none" stroke-linecap="round" stroke-linejoin="round"/><path d="M476.25,237.57 Q480.75,237.06 480.25,239.11 Q479.85,240.54 478.05,241.11 L469.75,244.45 Q468.55,245.16 469.45,246.28 L472.85,249.37" stroke="#fff" stroke-width="0.9" fill="none" stroke-linecap="round" stroke-linejoin="round"/><path d="M490.00,230.03 L493.70,234.00" stroke="#3a3a3a" stroke-width="2.6" fill="none" stroke-linecap="round" stroke-linejoin="round"/><path d="M490.00,230.03 L493.70,234.00" stroke="#fff" stroke-width="0.9" fill="none" stroke-linecap="round" stroke-linejoin="round"/><path d="M490.70,236.27 Q495.20,235.76 494.70,237.81 Q494.30,239.24 492.50,239.81 L484.20,243.15 Q483.00,243.86 483.90,244.98 L487.30,248.07" stroke="#3a3a3a" stroke-width="2.6" fill="none" stroke-linecap="round" stroke-linejoin="round"/><path d="M490.70,236.27 Q495.20,235.76 494.70,237.81 Q494.30,239.24 492.50,239.81 L484.20,243.15 Q483.00,243.86 483.90,244.98 L487.30,248.07" stroke="#fff" stroke-width="0.9" fill="none" stroke-linecap="round" stroke-linejoin="round"/><path d="M504.45,228.73 L508.15,232.70" stroke="#3a3a3a" stroke-width="2.6" fill="none" stroke-linecap="round" stroke-linejoin="round"/><path d="M504.45,228.73 L508.15,232.70" stroke="#fff" stroke-width="0.9" fill="none" stroke-linecap="round" stroke-linejoin="round"/><path d="M505.15,234.97 Q509.65,234.46 509.15,236.51 Q508.75,237.94 506.95,238.50 L498.65,241.85 Q497.45,242.56 498.35,243.68 L501.75,246.77" stroke="#3a3a3a" stroke-width="2.6" fill="none" stroke-linecap="round" stroke-linejoin="round"/><path d="M505.15,234.97 Q509.65,234.46 509.15,236.51 Q508.75,237.94 506.95,238.50 L498.65,241.85 Q497.45,242.56 498.35,243.68 L501.75,246.77" stroke="#fff" stroke-width="0.9" fill="none" stroke-linecap="round" stroke-linejoin="round"/><path d="M518.90,227.43 L522.60,231.40" stroke="#3a3a3a" stroke-width="2.6" fill="none" stroke-linecap="round" stroke-linejoin="round"/><path d="M518.90,227.43 L522.60,231.40" stroke="#fff" stroke-width="0.9" fill="none" stroke-linecap="round" stroke-linejoin="round"/><path d="M519.60,233.67 Q524.10,233.16 523.60,235.21 Q523.20,236.64 521.40,237.20 L513.10,240.55 Q511.90,241.26 512.80,242.38 L516.20,245.47" stroke="#3a3a3a" stroke-width="2.6" fill="none" stroke-linecap="round" stroke-linejoin="round"/><path d="M519.60,233.67 Q524.10,233.16 523.60,235.21 Q523.20,236.64 521.40,237.20 L513.10,240.55 Q511.90,241.26 512.80,242.38 L516.20,245.47" stroke="#fff" stroke-width="0.9" fill="none" stroke-linecap="round" stroke-linejoin="round"/><path d="M533.35,226.13 L537.05,230.10" stroke="#3a3a3a" stroke-width="2.6" fill="none" stroke-linecap="round" stroke-linejoin="round"/><path d="M533.35,226.13 L537.05,230.10" stroke="#fff" stroke-width="0.9" fill="none" stroke-linecap="round" stroke-linejoin="round"/><path d="M534.05,232.37 Q538.55,231.86 538.05,233.91 Q537.65,235.34 535.85,235.90 L527.55,239.25 Q526.35,239.96 527.25,241.08 L530.65,244.17" stroke="#3a3a3a" stroke-width="2.6" fill="none" stroke-linecap="round" stroke-linejoin="round"/><path d="M534.05,232.37 Q538.55,231.86 538.05,233.91 Q537.65,235.34 535.85,235.90 L527.55,239.25 Q526.35,239.96 527.25,241.08 L530.65,244.17" stroke="#fff" stroke-width="0.9" fill="none" stroke-linecap="round" stroke-linejoin="round"/><path d="M547.80,224.83 L551.50,228.80" stroke="#3a3a3a" stroke-width="2.6" fill="none" stroke-linecap="round" stroke-linejoin="round"/><path d="M547.80,224.83 L551.50,228.80" stroke="#fff" stroke-width="0.9" fill="none" stroke-linecap="round" stroke-linejoin="round"/><path d="M548.50,231.06 Q553.00,230.56 552.50,232.61 Q552.10,234.04 550.30,234.60 L542.00,237.95 Q540.80,238.66 541.70,239.78 L545.10,242.87" stroke="#3a3a3a" stroke-width="2.6" fill="none" stroke-linecap="round" stroke-linejoin="round"/><path d="M548.50,231.06 Q553.00,230.56 552.50,232.61 Q552.10,234.04 550.30,234.60 L542.00,237.95 Q540.80,238.66 541.70,239.78 L545.10,242.87" stroke="#fff" stroke-width="0.9" fill="none" stroke-linecap="round" stroke-linejoin="round"/><path d="M278.50,277.76 L278.50,270.76 Q278.50,267.87 282.50,267.50 L563.00,242.26 Q567.50,241.86 567.50,245.26 L567.50,251.76" stroke="#4a4a4a" stroke-width="3.3" fill="none" stroke-linecap="round" stroke-linejoin="round"/><path d="M278.50,277.76 L278.50,270.76 Q278.50,267.87 282.50,267.50 L563.00,242.26 Q567.50,241.86 567.50,245.26 L567.50,251.76" stroke="#fff" stroke-width="1.6" fill="none" stroke-linecap="round" stroke-linejoin="round"/><path d="M279.90,272.74 L283.50,278.42 M279.90,272.74 Q279.90,270.64 281.50,270.50 Q283.30,270.33 283.30,272.23 Q283.30,273.83 281.50,274.19" stroke="#3a3a3a" stroke-width="2.4" fill="none" stroke-linecap="round" stroke-linejoin="round"/><path d="M279.90,272.74 L283.50,278.42 M279.90,272.74 Q279.90,270.64 281.50,270.50 Q283.30,270.33 283.30,272.23 Q283.30,273.83 281.50,274.19" stroke="#fff" stroke-width="0.9" fill="none" stroke-linecap="round" stroke-linejoin="round"/><path d="M289.33,271.89 L292.93,277.57 M289.33,271.89 Q289.33,269.79 290.93,269.65 Q292.73,269.48 292.73,271.38 Q292.73,272.98 290.93,273.35" stroke="#3a3a3a" stroke-width="2.4" fill="none" stroke-linecap="round" stroke-linejoin="round"/><path d="M289.33,271.89 L292.93,277.57 M289.33,271.89 Q289.33,269.79 290.93,269.65 Q292.73,269.48 292.73,271.38 Q292.73,272.98 290.93,273.35" stroke="#fff" stroke-width="0.9" fill="none" stroke-linecap="round" stroke-linejoin="round"/><path d="M298.76,271.04 L302.36,276.72 M298.76,271.04 Q298.76,268.94 300.36,268.80 Q302.16,268.64 302.16,270.54 Q302.16,272.14 300.36,272.50" stroke="#3a3a3a" stroke-width="2.4" fill="none" stroke-linecap="round" stroke-linejoin="round"/><path d="M298.76,271.04 L302.36,276.72 M298.76,271.04 Q298.76,268.94 300.36,268.80 Q302.16,268.64 302.16,270.54 Q302.16,272.14 300.36,272.50" stroke="#fff" stroke-width="0.9" fill="none" stroke-linecap="round" stroke-linejoin="round"/><path d="M308.19,270.19 L311.79,275.87 M308.19,270.19 Q308.19,268.09 309.79,267.95 Q311.59,267.79 311.59,269.69 Q311.59,271.29 309.79,271.65" stroke="#3a3a3a" stroke-width="2.4" fill="none" stroke-linecap="round" stroke-linejoin="round"/><path d="M308.19,270.19 L311.79,275.87 M308.19,270.19 Q308.19,268.09 309.79,267.95 Q311.59,267.79 311.59,269.69 Q311.59,271.29 309.79,271.65" stroke="#fff" stroke-width="0.9" fill="none" stroke-linecap="round" stroke-linejoin="round"/><path d="M317.62,269.34 L321.22,275.02 M317.62,269.34 Q317.62,267.24 319.22,267.10 Q321.02,266.94 321.02,268.84 Q321.02,270.44 319.22,270.80" stroke="#3a3a3a" stroke-width="2.4" fill="none" stroke-linecap="round" stroke-linejoin="round"/><path d="M317.62,269.34 L321.22,275.02 M317.62,269.34 Q317.62,267.24 319.22,267.10 Q321.02,266.94 321.02,268.84 Q321.02,270.44 319.22,270.80" stroke="#fff" stroke-width="0.9" fill="none" stroke-linecap="round" stroke-linejoin="round"/><path d="M327.05,268.50 L330.65,274.17 M327.05,268.50 Q327.05,266.40 328.65,266.25 Q330.45,266.09 330.45,267.99 Q330.45,269.59 328.65,269.95" stroke="#3a3a3a" stroke-width="2.4" fill="none" stroke-linecap="round" stroke-linejoin="round"/><path d="M327.05,268.50 L330.65,274.17 M327.05,268.50 Q327.05,266.40 328.65,266.25 Q330.45,266.09 330.45,267.99 Q330.45,269.59 328.65,269.95" stroke="#fff" stroke-width="0.9" fill="none" stroke-linecap="round" stroke-linejoin="round"/><path d="M336.48,267.65 L340.08,273.32 M336.48,267.65 Q336.48,265.55 338.08,265.40 Q339.88,265.24 339.88,267.14 Q339.88,268.74 338.08,269.10" stroke="#3a3a3a" stroke-width="2.4" fill="none" stroke-linecap="round" stroke-linejoin="round"/><path d="M336.48,267.65 L340.08,273.32 M336.48,267.65 Q336.48,265.55 338.08,265.40 Q339.88,265.24 339.88,267.14 Q339.88,268.74 338.08,269.10" stroke="#fff" stroke-width="0.9" fill="none" stroke-linecap="round" stroke-linejoin="round"/><path d="M345.91,266.80 L349.51,272.47 M345.91,266.80 Q345.91,264.70 347.51,264.55 Q349.31,264.39 349.31,266.29 Q349.31,267.89 347.51,268.25" stroke="#3a3a3a" stroke-width="2.4" fill="none" stroke-linecap="round" stroke-linejoin="round"/><path d="M345.91,266.80 L349.51,272.47 M345.91,266.80 Q345.91,264.70 347.51,264.55 Q349.31,264.39 349.31,266.29 Q349.31,267.89 347.51,268.25" stroke="#fff" stroke-width="0.9" fill="none" stroke-linecap="round" stroke-linejoin="round"/><path d="M355.34,265.95 L358.94,271.63 M355.34,265.95 Q355.34,263.85 356.94,263.71 Q358.74,263.54 358.74,265.44 Q358.74,267.04 356.94,267.41" stroke="#3a3a3a" stroke-width="2.4" fill="none" stroke-linecap="round" stroke-linejoin="round"/><path d="M355.34,265.95 L358.94,271.63 M355.34,265.95 Q355.34,263.85 356.94,263.71 Q358.74,263.54 358.74,265.44 Q358.74,267.04 356.94,267.41" stroke="#fff" stroke-width="0.9" fill="none" stroke-linecap="round" stroke-linejoin="round"/><path d="M364.77,265.10 L368.37,270.78 M364.77,265.10 Q364.77,263.00 366.37,262.86 Q368.17,262.69 368.17,264.59 Q368.17,266.19 366.37,266.56" stroke="#3a3a3a" stroke-width="2.4" fill="none" stroke-linecap="round" stroke-linejoin="round"/><path d="M364.77,265.10 L368.37,270.78 M364.77,265.10 Q364.77,263.00 366.37,262.86 Q368.17,262.69 368.17,264.59 Q368.17,266.19 366.37,266.56" stroke="#fff" stroke-width="0.9" fill="none" stroke-linecap="round" stroke-linejoin="round"/><path d="M374.20,264.25 L377.80,269.93 M374.20,264.25 Q374.20,262.15 375.80,262.01 Q377.60,261.85 377.60,263.75 Q377.60,265.35 375.80,265.71" stroke="#3a3a3a" stroke-width="2.4" fill="none" stroke-linecap="round" stroke-linejoin="round"/><path d="M374.20,264.25 L377.80,269.93 M374.20,264.25 Q374.20,262.15 375.80,262.01 Q377.60,261.85 377.60,263.75 Q377.60,265.35 375.80,265.71" stroke="#fff" stroke-width="0.9" fill="none" stroke-linecap="round" stroke-linejoin="round"/><path d="M383.63,263.40 L387.23,269.08 M383.63,263.40 Q383.63,261.30 385.23,261.16 Q387.03,261.00 387.03,262.90 Q387.03,264.50 385.23,264.86" stroke="#3a3a3a" stroke-width="2.4" fill="none" stroke-linecap="round" stroke-linejoin="round"/><path d="M383.63,263.40 L387.23,269.08 M383.63,263.40 Q383.63,261.30 385.23,261.16 Q387.03,261.00 387.03,262.90 Q387.03,264.50 385.23,264.86" stroke="#fff" stroke-width="0.9" fill="none" stroke-linecap="round" stroke-linejoin="round"/><path d="M393.06,262.55 L396.66,268.23 M393.06,262.55 Q393.06,260.45 394.66,260.31 Q396.46,260.15 396.46,262.05 Q396.46,263.65 394.66,264.01" stroke="#3a3a3a" stroke-width="2.4" fill="none" stroke-linecap="round" stroke-linejoin="round"/><path d="M393.06,262.55 L396.66,268.23 M393.06,262.55 Q393.06,260.45 394.66,260.31 Q396.46,260.15 396.46,262.05 Q396.46,263.65 394.66,264.01" stroke="#fff" stroke-width="0.9" fill="none" stroke-linecap="round" stroke-linejoin="round"/><path d="M402.49,261.71 L406.09,267.38 M402.49,261.71 Q402.49,259.61 404.09,259.46 Q405.89,259.30 405.89,261.20 Q405.89,262.80 404.09,263.16" stroke="#3a3a3a" stroke-width="2.4" fill="none" stroke-linecap="round" stroke-linejoin="round"/><path d="M402.49,261.71 L406.09,267.38 M402.49,261.71 Q402.49,259.61 404.09,259.46 Q405.89,259.30 405.89,261.20 Q405.89,262.80 404.09,263.16" stroke="#fff" stroke-width="0.9" fill="none" stroke-linecap="round" stroke-linejoin="round"/><path d="M411.92,260.86 L415.52,266.53 M411.92,260.86 Q411.92,258.76 413.52,258.61 Q415.32,258.45 415.32,260.35 Q415.32,261.95 413.52,262.31" stroke="#3a3a3a" stroke-width="2.4" fill="none" stroke-linecap="round" stroke-linejoin="round"/><path d="M411.92,260.86 L415.52,266.53 M411.92,260.86 Q411.92,258.76 413.52,258.61 Q415.32,258.45 415.32,260.35 Q415.32,261.95 413.52,262.31" stroke="#fff" stroke-width="0.9" fill="none" stroke-linecap="round" stroke-linejoin="round"/><path d="M420.90,265.45 L428.90,260.03 Q430.70,258.77 430.50,260.59 Q430.10,261.82 428.70,261.55" stroke="#3a3a3a" stroke-width="2.5" fill="none" stroke-linecap="round" stroke-linejoin="round"/><path d="M420.90,265.45 L428.90,260.03 Q430.70,258.77 430.50,260.59 Q430.10,261.82 428.70,261.55" stroke="#fff" stroke-width="0.9" fill="none" stroke-linecap="round" stroke-linejoin="round"/><path d="M435.35,264.15 L443.35,258.73 Q445.15,257.47 444.95,259.28 Q444.55,260.52 443.15,260.25" stroke="#3a3a3a" stroke-width="2.5" fill="none" stroke-linecap="round" stroke-linejoin="round"/><path d="M435.35,264.15 L443.35,258.73 Q445.15,257.47 444.95,259.28 Q444.55,260.52 443.15,260.25" stroke="#fff" stroke-width="0.9" fill="none" stroke-linecap="round" stroke-linejoin="round"/><path d="M449.80,262.85 L457.80,257.43 Q459.60,256.17 459.40,257.98 Q459.00,259.22 457.60,258.95" stroke="#3a3a3a" stroke-width="2.5" fill="none" stroke-linecap="round" stroke-linejoin="round"/><path d="M449.80,262.85 L457.80,257.43 Q459.60,256.17 459.40,257.98 Q459.00,259.22 457.60,258.95" stroke="#fff" stroke-width="0.9" fill="none" stroke-linecap="round" stroke-linejoin="round"/><path d="M464.25,261.55 L472.25,256.13 Q474.05,254.87 473.85,256.68 Q473.45,257.92 472.05,257.65" stroke="#3a3a3a" stroke-width="2.5" fill="none" stroke-linecap="round" stroke-linejoin="round"/><path d="M464.25,261.55 L472.25,256.13 Q474.05,254.87 473.85,256.68 Q473.45,257.92 472.05,257.65" stroke="#fff" stroke-width="0.9" fill="none" stroke-linecap="round" stroke-linejoin="round"/><path d="M478.70,260.25 L486.70,254.83 Q488.50,253.56 488.30,255.38 Q487.90,256.62 486.50,256.35" stroke="#3a3a3a" stroke-width="2.5" fill="none" stroke-linecap="round" stroke-linejoin="round"/><path d="M478.70,260.25 L486.70,254.83 Q488.50,253.56 488.30,255.38 Q487.90,256.62 486.50,256.35" stroke="#fff" stroke-width="0.9" fill="none" stroke-linecap="round" stroke-linejoin="round"/><path d="M493.15,258.95 L501.15,253.53 Q502.95,252.26 502.75,254.08 Q502.35,255.32 500.95,255.04" stroke="#3a3a3a" stroke-width="2.5" fill="none" stroke-linecap="round" stroke-linejoin="round"/><path d="M493.15,258.95 L501.15,253.53 Q502.95,252.26 502.75,254.08 Q502.35,255.32 500.95,255.04" stroke="#fff" stroke-width="0.9" fill="none" stroke-linecap="round" stroke-linejoin="round"/><path d="M507.60,257.65 L515.60,252.23 Q517.40,250.96 517.20,252.78 Q516.80,254.02 515.40,253.74" stroke="#3a3a3a" stroke-width="2.5" fill="none" stroke-linecap="round" stroke-linejoin="round"/><path d="M507.60,257.65 L515.60,252.23 Q517.40,250.96 517.20,252.78 Q516.80,254.02 515.40,253.74" stroke="#fff" stroke-width="0.9" fill="none" stroke-linecap="round" stroke-linejoin="round"/><path d="M522.05,256.35 L530.05,250.93 Q531.85,249.66 531.65,251.48 Q531.25,252.72 529.85,252.44" stroke="#3a3a3a" stroke-width="2.5" fill="none" stroke-linecap="round" stroke-linejoin="round"/><path d="M522.05,256.35 L530.05,250.93 Q531.85,249.66 531.65,251.48 Q531.25,252.72 529.85,252.44" stroke="#fff" stroke-width="0.9" fill="none" stroke-linecap="round" stroke-linejoin="round"/><path d="M536.50,255.05 L544.50,249.62 Q546.30,248.36 546.10,250.18 Q545.70,251.42 544.30,251.14" stroke="#3a3a3a" stroke-width="2.5" fill="none" stroke-linecap="round" stroke-linejoin="round"/><path d="M536.50,255.05 L544.50,249.62 Q546.30,248.36 546.10,250.18 Q545.70,251.42 544.30,251.14" stroke="#fff" stroke-width="0.9" fill="none" stroke-linecap="round" stroke-linejoin="round"/><path d="M550.95,253.74 L558.95,248.32 Q560.75,247.06 560.55,248.88 Q560.15,250.12 558.75,249.84" stroke="#3a3a3a" stroke-width="2.5" fill="none" stroke-linecap="round" stroke-linejoin="round"/><path d="M550.95,253.74 L558.95,248.32 Q560.75,247.06 560.55,248.88 Q560.15,250.12 558.75,249.84" stroke="#fff" stroke-width="0.9" fill="none" stroke-linecap="round" stroke-linejoin="round"/><path d="M372.40,261.31 L372.40,269.61" stroke="#4a4a4a" stroke-width="2.4" fill="none" stroke-linecap="round" stroke-linejoin="round"/><path d="M372.40,261.31 L372.40,269.61" stroke="#fff" stroke-width="1.0" fill="none" stroke-linecap="round" stroke-linejoin="round"/><path d="M474.80,252.10 L474.80,260.40" stroke="#4a4a4a" stroke-width="2.4" fill="none" stroke-linecap="round" stroke-linejoin="round"/><path d="M474.80,252.10 L474.80,260.40" stroke="#fff" stroke-width="1.0" fill="none" stroke-linecap="round" stroke-linejoin="round"/><path d="M263.15,247.65 L277.50,278.36" stroke="#4a4a4a" stroke-width="2.2" fill="none" stroke-linecap="round" stroke-linejoin="round"/><path d="M263.15,247.65 L277.50,278.36" stroke="#fff" stroke-width="1.0" fill="none" stroke-linecap="round" stroke-linejoin="round"/><path d="M548.00,221.01 L567.00,242.30" stroke="#4a4a4a" stroke-width="2.2" fill="none" stroke-linecap="round" stroke-linejoin="round"/><path d="M548.00,221.01 L567.00,242.30" stroke="#fff" stroke-width="1.0" fill="none" stroke-linecap="round" stroke-linejoin="round"/></g><path d="M289.6,205 L289.6,220.2" stroke="#111" stroke-width="1.9"/><path d="M286.5,219.2 L292.70000000000005,219.2 L289.6,224.2 Z" fill="#111"/><path d="M532.5,184.7 L532.5,199.7" stroke="#111" stroke-width="1.9"/><path d="M529.4,198.7 L535.6,198.7 L532.5,203.7 Z" fill="#111"/><path d="M289.8,286 L289.8,300.3" stroke="#111" stroke-width="1.9"/><path d="M286.7,299.3 L292.90000000000003,299.3 L289.8,304.3 Z" fill="#111"/><path d="M532.2,265 L532.2,280" stroke="#111" stroke-width="1.9"/><path d="M529.1,279 L535.3000000000001,279 L532.2,284 Z" fill="#111"/><path d="M212.4,216.3 L268,203.2" stroke="#222" stroke-width="0.8"/><path d="M212.9,297.3 L267.6,284.4" stroke="#222" stroke-width="0.8"/><circle cx="267.4" cy="248.2" r="11.3" fill="none" stroke="#333" stroke-width="0.8"/><circle cx="268.2" cy="327.7" r="11.3" fill="none" stroke="#333" stroke-width="0.8"/><circle cx="579.3" cy="218.4" r="11.3" fill="none" stroke="#333" stroke-width="0.8"/><circle cx="580" cy="299.8" r="11.3" fill="none" stroke="#333" stroke-width="0.8"/><clipPath id="bc"><circle cx="447.2" cy="356.8" r="61"/></clipPath><circle cx="447.2" cy="356.8" r="61" fill="#fff"/><g clip-path="url(#bc)"><path d="M409.5,308.3 L446.3,342.8" stroke="#222" stroke-width="1.4"/><g stroke="#333" stroke-width="0.75" fill="none"><path d="M380,328.2 L410.7,319.6"/><path d="M380,345.3 L412.9,332.6"/><path d="M410.7,319.6 C416,317.3 423,319.5 425.6,326.5" stroke-width="1.05"/><path d="M410.9,320.8 C411.2,327 413,333 417.5,335.5 C420,336.6 423.5,336.6 425.8,335"/><path d="M412.9,332.6 L407.1,370.3 Q408.5,374.8 413.5,374.8 Q419.5,374.8 420.8,370.3 L425.7,327" stroke-width="1.05"/><path d="M384,345.5 L407.1,367.5"/><path d="M380,378.7 L453.9,353.5"/><path d="M394,387 L456,366.2"/><path d="M399.9,394.9 L452,376.6"/><path d="M401,397.2 L452.5,379"/><path d="M384,361 L398.5,386.2"/><path d="M420,372.5 L435,371.7"/><path d="M440.6,345.6 L441.1,344.2 L466.8,333.4 L469,333.6 L470.5,337 L470.8,341"/><path d="M441.1,344.2 L444.5,346.8 L445.2,353.5"/><path d="M444.5,346.8 L469.5,336.5"/><path d="M442.8,345.3 L468,335"/><path d="M445.2,349.2 L470.7,339.2"/><path d="M445.2,350.6 L470.8,340.6"/><path d="M440.6,345.6 L441.2,355.5 L445.2,353.5"/><path d="M470.8,341 L475.5,348.5"/><path d="M455.2,360.3 L484.8,349 L491.3,352 L496.3,383.2 L458.6,393.6 L456,392.2 Z" fill="#fff" stroke="none"/><path d="M455.2,360.3 L484.8,349 L487.6,351.2 L457.6,362.8 Z"/><path d="M456.3,361.4 L486.2,350.1"/><path d="M457.6,362.8 L458.2,364.6 L488.2,353.6 L487.6,351.2"/><path d="M455.2,360.3 L456,392.2"/><path d="M458.2,364.6 L458.6,393.6"/><path d="M456,392.2 L458.6,393.6 L496.3,383.2"/><path d="M458.4,391.8 L496,381.6"/><path d="M441.7,377.8 L456,392.2"/><path d="M467.5,300 Q481,310 494.2,321.3 L491.3,370.5 L496,370.5 L497,374.3 L496.3,383.2"/><path d="M466.5,302 Q479.5,311.5 492.3,323.2 L489.5,347.8"/><path d="M499,327 L496.6,370.5"/><path d="M473.7,326.2 a7.7,10.5 -8 1,0 15.4,0 a7.7,10.5 -8 1,0 -15.4,0" stroke-width="1.05"/><path d="M479.4,326.2 a4,7 -8 1,0 8,0 a4,7 -8 1,0 -8,0" stroke-width="1.05"/><path d="M481.2,326.4 a2.4,4.6 -8 1,0 4.8,0 a2.4,4.6 -8 1,0 -4.8,0"/></g></g><circle cx="447.2" cy="356.8" r="61" fill="none" stroke="#333" stroke-width="0.9"/><g><path d="M559.2,182 L575,213 M561.2,180.4 L580.9,211.2 M559.2,182 L561.2,180.4" stroke="#333" stroke-width="0.85" fill="none"/><path d="M562.3,182.6 L579.6,210.2" stroke="#555" stroke-width="0.7" stroke-dasharray="1.4,0.9" fill="none"/><path d="M554.5,186.8 L559.3,186.8 L559.3,192.6 L554.5,192.6 Z" fill="#fff" stroke="#111" stroke-width="1.2"/><path d="M554.2,186.5 L554.2,193 L559.5,193" stroke="#111" stroke-width="1.8" fill="none"/><path d="M559.4,181 L559.4,187" stroke="#111" stroke-width="1.3"/><path d="M574.9,218.3 L580.2,218.3 L580.2,213.6 L582.1,213.6 L582.1,224.9 L574.9,224.9 Z" fill="#fff" stroke="#111" stroke-width="1.3"/><path d="M574.6,218 L574.6,225.3 L580,225.3" stroke="#111" stroke-width="1.9" fill="none"/><path d="M581.2,214 L581.2,224" stroke="#555" stroke-width="1.5"/><path d="M564.6,194 l0.4,1.8 M573.9,209.6 l0.4,1.8" stroke="#111" stroke-width="0.9"/></g><g transform="translate(0.7,80.6)"><path d="M559.2,182 L575,213 M561.2,180.4 L580.9,211.2 M559.2,182 L561.2,180.4" stroke="#333" stroke-width="0.85" fill="none"/><path d="M562.3,182.6 L579.6,210.2" stroke="#555" stroke-width="0.7" stroke-dasharray="1.4,0.9" fill="none"/><path d="M554.5,186.8 L559.3,186.8 L559.3,192.6 L554.5,192.6 Z" fill="#fff" stroke="#111" stroke-width="1.2"/><path d="M554.2,186.5 L554.2,193 L559.5,193" stroke="#111" stroke-width="1.8" fill="none"/><path d="M559.4,181 L559.4,187" stroke="#111" stroke-width="1.3"/><path d="M574.9,218.3 L580.2,218.3 L580.2,213.6 L582.1,213.6 L582.1,224.9 L574.9,224.9 Z" fill="#fff" stroke="#111" stroke-width="1.3"/><path d="M574.6,218 L574.6,225.3 L580,225.3" stroke="#111" stroke-width="1.9" fill="none"/><path d="M581.2,214 L581.2,224" stroke="#555" stroke-width="1.5"/><path d="M564.6,194 l0.4,1.8 M573.9,209.6 l0.4,1.8" stroke="#111" stroke-width="0.9"/></g><path d="M267.2,244.9 L271.2,244.9 L271.2,250.8 L267.2,250.8" fill="#fff" stroke="#111" stroke-width="1.1"/><path d="M267.2,244.8 L271.4,244.8" stroke="#111" stroke-width="1.6"/><path d="M267.6,325 L272.6,325.3 L272.6,331.8 L267.6,332.2" fill="#fff" stroke="#111" stroke-width="1.1"/><path d="M267.6,324.9 L271.6,325.1" stroke="#111" stroke-width="1.6"/><path d="M416,304.4 L279,246.5" stroke="#222" stroke-width="0.8"/><path d="M279,246.5 L286.30,247.20 L284.59,251.25 Z" fill="#111"/><path d="M463,298.5 L568.3,224" stroke="#222" stroke-width="0.8"/><path d="M568.3,224 L563.86,229.84 L561.31,226.25 Z" fill="#111"/><path d="M386,341 L276.8,336.7" stroke="#222" stroke-width="0.8"/><path d="M276.8,336.7 L283.88,334.78 L283.71,339.17 Z" fill="#111"/><path d="M505.5,331 L573.5,310" stroke="#222" stroke-width="0.8"/><path d="M573.5,310 L567.46,314.17 L566.16,309.96 Z" fill="#111"/><circle cx="200.7" cy="219.7" r="11.9" fill="#1a1a1a"/><text x="200.89999999999998" y="226.79999999999998" text-anchor="middle" font-family="Liberation Sans" font-weight="bold" font-size="20" fill="#fff" stroke="#fff" stroke-width="0.5">B</text><circle cx="200.9" cy="300.6" r="11.9" fill="#1a1a1a"/><text x="201.1" y="307.70000000000005" text-anchor="middle" font-family="Liberation Sans" font-weight="bold" font-size="20" fill="#fff" stroke="#fff" stroke-width="0.5">A</text><circle cx="191.1" cy="52" r="12.9" fill="#1a1a1a"/><path d="M191,43.5 L194.7,43.5 L194.7,60.9 L191,60.9 L191,49.3 Q189,50 186.7,50 L186.7,47.3 Q189.5,46.7 190.4,43.5 Z" fill="#fff"/><path d="M204,51.7 L622,51.7" stroke="#444" stroke-width="1.4"/></svg>
<div class="t m" id="title">ПОСЛЕДОВАТЕЛЬНОСТЬ МОНТАЖА ИЗДЕЛИЯ</div>
<div class="t m" id="l1">Закрепить пластиковые держатели <b>D</b> при помощи саморезов <b>G</b>.</div>
<div class="t m" id="l2">Поместить сетки <b>A</b>, <b>B</b> в пазы пластиковых держателей <b>D</b>.</div>
</body></html>
